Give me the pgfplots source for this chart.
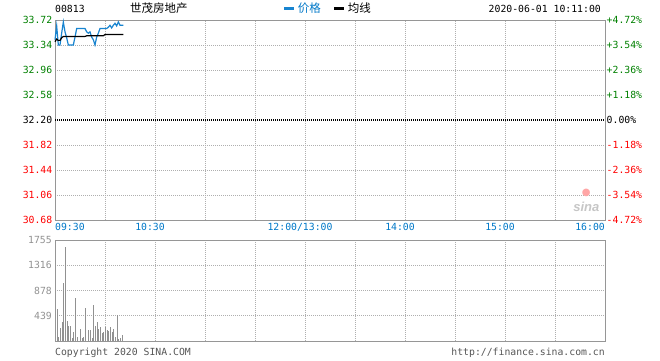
\documentclass[border=0pt]{standalone}
\usepackage{pgfplots}
\pgfplotsset{compat=1.18}
\usepackage{fontspec}
\setmainfont{DejaVu Sans Mono}
\newfontfamily\cjk{Noto Sans CJK SC}
\newfontfamily\sinafont{Liberation Sans}
\newfontfamily\symfont{DejaVu Sans}
\definecolor{pricebl}{RGB}{24,132,208}
\definecolor{timebl}{RGB}{0,120,200}
\definecolor{gridg}{RGB}{175,175,175}
\definecolor{frameg}{RGB}{150,150,150}
\definecolor{upg}{RGB}{0,128,0}
\definecolor{dnr}{RGB}{255,0,0}
\definecolor{volg}{RGB}{145,145,145}
\definecolor{txtg}{RGB}{85,85,85}

\begin{document}
\begin{tikzpicture}[x=1pt,y=1pt]
\path (0,0) rectangle (660,360);
\pgfplotsset{
  every axis/.append style={
    scale only axis, width=550pt, xmin=0, xmax=330,
    xtick={0,30,...,330}, xticklabels={},
    major tick length=0pt,
    axis line style={frameg, line width=0.9pt},
    grid=major,
    grid style={gridg, line width=0.8pt, dash pattern=on 1pt off 1pt},
    tick label style={font=\fontsize{9.8}{12}\selectfont},
    /pgf/number format/assume math mode=true,
  }
}
% ---------------- price panel ----------------
\begin{axis}[
  at={(55pt,140pt)}, anchor=south west, height=200pt,
  ymin=30.68, ymax=33.72,
  ytick={30.68,31.06,31.44,31.82,32.20,32.58,32.96,33.34,33.72},
  yticklabels={\textcolor{dnr}{30.68},\textcolor{dnr}{31.06},\textcolor{dnr}{31.44},\textcolor{dnr}{31.82},\textcolor{black}{32.20},\textcolor{upg}{32.58},\textcolor{upg}{32.96},\textcolor{upg}{33.34},\textcolor{upg}{33.72}},
  yticklabel style={inner sep=2.5pt},
  legend columns=2,
  legend style={at={(0.414,1.057)}, anchor=west, draw=none, fill=none, inner sep=0pt,
    font=\cjk\fontsize{11.5}{13}\selectfont, /tikz/every even column/.append style={column sep=10pt}},
  legend image code/.code={\draw[#1, line width=3pt] (0pt,0pt) -- (10pt,0pt);},
  clip=false,
]
\addplot[black, line width=1.3pt, dash pattern=on 1pt off 1pt, forget plot] coordinates {(0,32.20) (330,32.20)};
\addplot[pricebl, line width=1.2pt] table {
m p
0 33.42
1 33.63
2 33.34
3 33.34
4 33.52
5 33.69
6 33.54
7 33.45
8 33.34
9 33.34
10 33.34
11 33.34
12 33.46
13 33.59
14 33.59
15 33.59
16 33.59
17 33.59
18 33.59
19 33.54
20 33.52
21 33.54
22 33.46
23 33.42
24 33.34
25 33.46
26 33.52
27 33.59
28 33.59
29 33.59
30 33.59
31 33.59
32 33.61
33 33.64
34 33.60
35 33.64
36 33.67
37 33.63
38 33.69
39 33.64
40 33.64
41 33.64
};
\addlegendentry{\textcolor{timebl}{价格}}
\addplot[black, line width=1.2pt] table {
m a
0 33.39
1 33.43
2 33.41
3 33.41
4 33.45
5 33.47
18 33.47
19 33.48
29 33.48
30 33.50
41 33.50
};
\addlegendentry{均线}
% time labels
\node[anchor=base west, timebl, font=\fontsize{9.8}{12}\selectfont, inner sep=0pt] at (axis cs:0,30.68) [yshift=-10pt] {09:30};
\node[anchor=base, timebl, font=\fontsize{9.8}{12}\selectfont, inner sep=0pt] at (axis cs:57,30.68) [yshift=-10pt] {10:30};
\node[anchor=base, timebl, font=\fontsize{9.8}{12}\selectfont, inner sep=0pt] at (axis cs:147,30.68) [yshift=-10pt] {12:00/13:00};
\node[anchor=base, timebl, font=\fontsize{9.8}{12}\selectfont, inner sep=0pt] at (axis cs:207,30.68) [yshift=-10pt] {14:00};
\node[anchor=base, timebl, font=\fontsize{9.8}{12}\selectfont, inner sep=0pt] at (axis cs:267,30.68) [yshift=-10pt] {15:00};
\node[anchor=base east, timebl, font=\fontsize{9.8}{12}\selectfont, inner sep=0pt] at (axis cs:330,30.68) [yshift=-10pt] {16:00};
% watermark
\node[anchor=south east, inner sep=0pt, text=gray!45, font=\sinafont\bfseries\itshape\fontsize{13}{14}\selectfont] at (rel axis cs:0.99,0.04) {sina};
\node[anchor=south, inner sep=0pt, text=red!35, font=\symfont\fontsize{10}{11}\selectfont] at (rel axis cs:0.966,0.115) {●};
\end{axis}
% ---------------- percent axis (right) ----------------
\begin{axis}[
  at={(55pt,140pt)}, anchor=south west, height=200pt,
  ymin=-4.72, ymax=4.72, grid=none,
  axis x line=none, axis y line*=right,
  ytick={-4.72,-3.54,-2.36,-1.18,0,1.18,2.36,3.54,4.72},
  yticklabels={\textcolor{dnr}{-4.72\%},\textcolor{dnr}{-3.54\%},\textcolor{dnr}{-2.36\%},\textcolor{dnr}{-1.18\%},\textcolor{black}{0.00\%},\textcolor{upg}{+1.18\%},\textcolor{upg}{+2.36\%},\textcolor{upg}{+3.54\%},\textcolor{upg}{+4.72\%}},
  yticklabel style={anchor=west, inner sep=1.5pt},
]
\addplot[draw=none] coordinates {(0,0)};
\end{axis}
% ---------------- volume panel ----------------
\begin{axis}[
  at={(55pt,19pt)}, anchor=south west, height=101pt,
  ymin=0, ymax=1755,
  ytick={439,878,1316,1755},
  yticklabels={439,878,1316,1755},
  yticklabel style={volg, inner sep=3pt},
]
\addplot[ycomb, volg, line width=1pt, mark=none, xshift=0.6pt] table {
m v
1 552
2 70
3 227
4 331
5 1000
6 1633
7 343
8 261
9 261
10 52
11 157
12 750
13 70
15 204
16 52
17 70
18 575
20 186
21 186
22 52
23 622
24 261
25 331
26 204
27 244
28 146
29 157
30 244
31 186
32 175
33 244
34 157
35 204
36 70
37 448
38 35
39 50
40 100
};
\end{axis}
% ---------------- header / footer texts ----------------
\node[anchor=base west, inner sep=0pt, font=\fontsize{9.8}{12}\selectfont] at (55,348) {00813};
\node[anchor=base west, inner sep=0pt, font=\cjk\fontsize{11.5}{13}\selectfont] at (130,348) {世茂房地产};
\node[anchor=base east, inner sep=0pt, font=\fontsize{9.8}{12}\selectfont] at (601,348) {2020-06-01 10:11:00};
\node[anchor=base west, inner sep=0pt, text=txtg, font=\fontsize{9.8}{12}\selectfont] at (55,5) {Copyright 2020 SINA.COM};
\node[anchor=base east, inner sep=0pt, text=txtg, font=\fontsize{9.8}{12}\selectfont] at (605,5) {http://finance.sina.com.cn};
\end{tikzpicture}
\end{document}
